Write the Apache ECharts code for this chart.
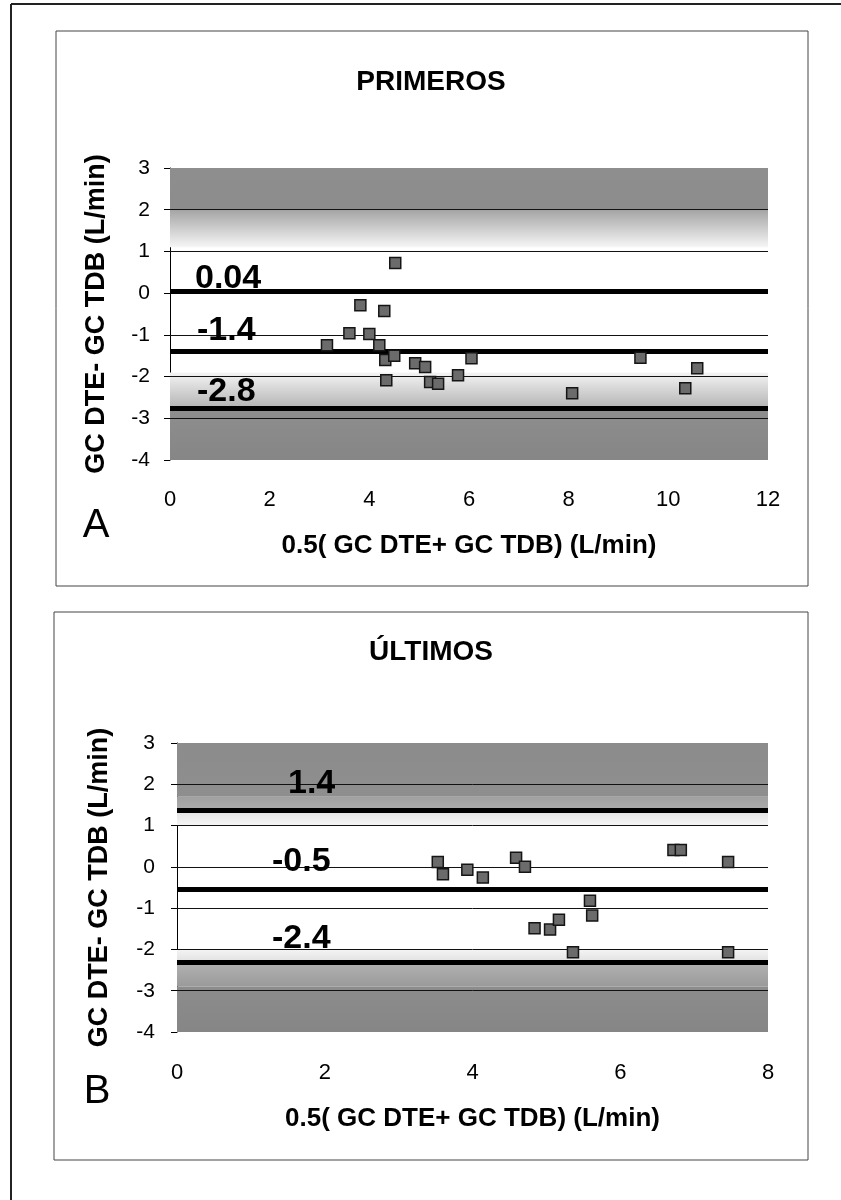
<!DOCTYPE html>
<html>
<head>
<meta charset="utf-8">
<script src="https://cdn.jsdelivr.net/npm/echarts@6/dist/echarts.min.js"></script>
<style>
  html, body { margin: 0; padding: 0; background: #fff; }
  #chart { width: 841px; height: 1200px; }
</style>
</head>
<body>
<div id="chart"></div>
<script>
// integer grid lines inside the plot
const gridValues = [-3, -2, -1, 0, 1, 2];

// Panel A - PRIMEROS
const xA = [3.15, 3.6, 3.82, 4.0, 4.2, 4.3, 4.32, 4.5, 4.34, 4.52, 4.92, 5.12, 5.22, 5.38, 5.78, 6.05, 8.07, 9.44, 10.34, 10.58];
const yA = [-1.25, -0.96, -0.29, -0.98, -1.25, -0.43, -1.6, -1.5, -2.09, 0.72, -1.68, -1.77, -2.13, -2.17, -1.97, -1.56, -2.4, -1.55, -2.28, -1.8];
const linesA = [0.04, -1.4, -2.75];
const lineLabelsA = ['0.04', '-1.4', '-2.8'];
const bandsA = [[3, 2], [2, 1.1], [-1.9, -2.75], [-2.75, -4]];

// Panel B - ÚLTIMOS
const xB = [3.53, 3.6, 3.93, 4.14, 4.59, 4.71, 4.84, 5.05, 5.17, 5.36, 5.59, 5.62, 6.72, 6.82, 7.46, 7.46];
const yB = [0.12, -0.18, -0.07, -0.26, 0.22, 0.0, -1.49, -1.52, -1.28, -2.07, -0.82, -1.18, 0.41, 0.41, 0.12, -2.07];
const linesB = [1.38, -0.55, -2.32];
const lineLabelsB = ['1.4', '-0.5', '-2.4'];
const bandsB = [[3, 1.7], [1.7, 1.38], [1.38, 1.0], [-2.0, -2.32], [-2.32, -2.9], [-2.9, -4]];

const FONT = '"Liberation Sans", Arial, sans-serif';
const grad = (c1, c2) => new echarts.graphic.LinearGradient(0, 0, 0, 1, [
  { offset: 0, color: c1 }, { offset: 1, color: c2 }
]);

const bandColorsA = [['#8e8e8e', '#8c8c8c'], ['#a4a4a4', '#f6f6f6'], ['#f4f4f4', '#b4b4b4'], ['#8e8e8e', '#868686']];
const bandColorsB = [['#8c8c8c', '#8e8e8e'], ['#a0a0a0', '#ababab'], ['#e0e0e0', '#f6f6f6'], ['#f4f4f4', '#e0e0e0'], ['#b2b2b2', '#9a9a9a'], ['#8c8c8c', '#868686']];

// label offsets: [along line, above line]
const labelDistA = [[25, -4], [27, 4], [27, -1]];
const labelDistB = [[111, 9], [95, 11], [95, 7]];

function panelSeries(idx, xs, ys, lines, labels, bands, bandColors, dists) {
  return [
    {
      type: 'line', xAxisIndex: idx, yAxisIndex: idx, data: [], silent: true,
      markArea: {
        silent: true,
        data: bands.map((b, i) => [
          { yAxis: b[0], itemStyle: { color: grad(bandColors[i][0], bandColors[i][1]) } },
          { yAxis: b[1] }
        ])
      },
      markLine: {
        silent: true, symbol: 'none', label: { show: false },
        lineStyle: { color: '#111', width: 1, type: 'solid' },
        data: gridValues.map(v => ({ yAxis: v }))
      }
    },
    {
      type: 'scatter', xAxisIndex: idx, yAxisIndex: idx, z: 6,
      symbol: 'rect', symbolSize: 11,
      itemStyle: { color: '#6b6b6b', borderColor: '#151515', borderWidth: 1.5, opacity: 1 },
      data: xs.map((x, i) => [x, ys[i]])
    },
    {
      type: 'line', xAxisIndex: idx, yAxisIndex: idx, data: [], silent: true,
      markLine: {
        silent: true, symbol: 'none',
        lineStyle: { color: '#000', width: 5, type: 'solid' },
        data: lines.map((v, i) => ({
          yAxis: v,
          label: {
            show: true, position: 'insideStartTop', distance: dists[i],
            formatter: labels[i], color: '#000', fontSize: 34, fontWeight: 'bold', fontFamily: FONT
          }
        }))
      }
    }
  ];
}

function yAxisOpt(idx, gap, margin) {
  return {
    gridIndex: idx, type: 'value', min: -4, max: 3, interval: 1,
    axisLine: { show: true, lineStyle: { color: '#000', width: 1 } },
    axisTick: { show: true, length: 6, lineStyle: { color: '#000' } },
    axisLabel: { color: '#000', fontSize: 21, margin: margin, fontFamily: FONT },
    splitLine: { show: false },
    name: 'GC DTE- GC TDB (L/min)', nameLocation: 'middle', nameGap: gap,
    nameTextStyle: { color: '#000', fontSize: 27, fontWeight: 'bold', fontFamily: FONT }
  };
}

function xAxisOpt(idx, max, margin, gap) {
  return {
    gridIndex: idx, type: 'value', min: 0, max: max, interval: 2,
    axisLine: { show: false }, axisTick: { show: false },
    axisLabel: { color: '#000', fontSize: 22, margin: margin, fontFamily: FONT },
    splitLine: { show: false },
    name: '0.5( GC DTE+ GC TDB) (L/min)', nameLocation: 'middle', nameGap: gap,
    nameTextStyle: { color: '#000', fontSize: 26, fontWeight: 'bold', fontFamily: FONT }
  };
}

const chart = echarts.init(document.getElementById('chart'), null, { renderer: 'canvas' });
chart.setOption({
  animation: false,
  backgroundColor: '#fff',
  grid: [
    { left: 170, right: 73, top: 168, height: 292 },
    { left: 177, right: 73, top: 743, height: 289 }
  ],
  xAxis: [xAxisOpt(0, 12, 29, 73), xAxisOpt(1, 8, 30, 74)],
  yAxis: [yAxisOpt(0, 60, 20), yAxisOpt(1, 64, 22)],
  series: [
    ...panelSeries(0, xA, yA, linesA, lineLabelsA, bandsA, bandColorsA, labelDistA),
    ...panelSeries(1, xB, yB, linesB, lineLabelsB, bandsB, bandColorsB, labelDistB)
  ],
  graphic: [
    { type: 'line', shape: { x1: 11, y1: 4, x2: 841, y2: 4 }, style: { stroke: '#222', lineWidth: 2 } },
    { type: 'line', shape: { x1: 11, y1: 4, x2: 11, y2: 1200 }, style: { stroke: '#222', lineWidth: 2 } },
    { type: 'rect', shape: { x: 56, y: 31, width: 752, height: 555 }, style: { fill: 'none', stroke: '#444', lineWidth: 1 } },
    { type: 'rect', shape: { x: 54, y: 612, width: 754, height: 548 }, style: { fill: 'none', stroke: '#444', lineWidth: 1 } },
    { type: 'text', x: 431, y: 82, style: { text: 'PRIMEROS', fill: '#000', font: 'bold 28px ' + FONT, textAlign: 'center', textVerticalAlign: 'middle' } },
    { type: 'text', x: 431, y: 652, style: { text: 'ÚLTIMOS', fill: '#000', font: 'bold 28px ' + FONT, textAlign: 'center', textVerticalAlign: 'middle' } },
    { type: 'text', x: 96, y: 526, style: { text: 'A', fill: '#000', font: '40px ' + FONT, textAlign: 'center', textVerticalAlign: 'middle' } },
    { type: 'text', x: 97, y: 1092, style: { text: 'B', fill: '#000', font: '40px ' + FONT, textAlign: 'center', textVerticalAlign: 'middle' } }
  ]
});
</script>
</body>
</html>
